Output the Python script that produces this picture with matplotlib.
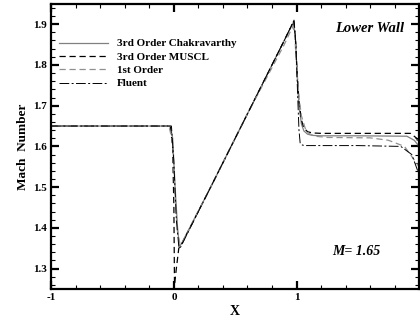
import matplotlib
matplotlib.use("Agg")
import matplotlib.pyplot as plt
from matplotlib.ticker import MultipleLocator, FixedLocator

plt.rcParams['font.family'] = ['Liberation Serif', 'DejaVu Serif']

# Series data (x, Mach number)
x_chak = [-1.0, -0.03, -0.01, 0.01, 0.03, 0.045, 0.06, 0.3, 0.6, 0.9, 0.975, 0.99, 1.005, 1.02, 1.04, 1.06, 1.09, 1.13, 1.2, 1.5, 1.9, 1.96, 2.0]
m_chak = [1.65, 1.65, 1.62, 1.50, 1.40, 1.355, 1.36, 1.50, 1.68, 1.86, 1.905, 1.87, 1.78, 1.70, 1.655, 1.638, 1.630, 1.627, 1.626, 1.626, 1.625, 1.615, 1.60]

x_muscl = [-1.0, -0.03, -0.01, 0.0, 0.005, 0.02, 0.04, 0.055, 0.3, 0.6, 0.9, 0.978, 0.99, 1.005, 1.02, 1.04, 1.06, 1.09, 1.13, 1.2, 1.5, 1.93, 1.98, 2.0]
m_muscl = [1.65, 1.65, 1.60, 1.45, 1.26, 1.30, 1.35, 1.355, 1.50, 1.68, 1.86, 1.908, 1.87, 1.78, 1.71, 1.665, 1.645, 1.636, 1.633, 1.632, 1.632, 1.632, 1.62, 1.60]

x_first = [-1.0, -0.04, -0.01, 0.01, 0.03, 0.05, 0.07, 0.3, 0.6, 0.9, 0.97, 0.985, 1.0, 1.02, 1.04, 1.07, 1.1, 1.15, 1.25, 1.6, 1.75, 1.88, 2.0]
m_first = [1.65, 1.65, 1.61, 1.48, 1.39, 1.36, 1.365, 1.50, 1.68, 1.85, 1.895, 1.875, 1.80, 1.72, 1.675, 1.645, 1.632, 1.625, 1.622, 1.621, 1.615, 1.60, 1.55]

x_fluent = [-1.0, -0.02, 0.0, 0.02, 0.04, 0.05, 0.3, 0.6, 0.9, 0.98, 0.995, 1.01, 1.02, 1.03, 1.05, 1.08, 1.2, 1.5, 1.85, 1.94, 2.0]
m_fluent = [1.65, 1.65, 1.56, 1.42, 1.355, 1.35, 1.50, 1.68, 1.86, 1.91, 1.85, 1.72, 1.64, 1.607, 1.603, 1.602, 1.602, 1.602, 1.600, 1.58, 1.53]

labels = ["3rd Order Chakravarthy", "3rd Order MUSCL", "1st Order", "Fluent"]
x_ticks = [-1, 0, 1]
y_ticks = [1.3, 1.4, 1.5, 1.6, 1.7, 1.8, 1.9]

fig = plt.figure(figsize=(4.2, 3.2), dpi=100)
ax = fig.add_axes([0.122, 0.097, 0.876, 0.891])

ax.plot(x_chak, m_chak, color='#808080', lw=0.9, ls='-', label=labels[0])
ax.plot(x_muscl, m_muscl, color='black', lw=0.9, ls=(0, (5, 3)), label=labels[1])
ax.plot(x_first, m_first, color='#909090', lw=0.9, ls=(0, (5, 3)), label=labels[2])
ax.plot(x_fluent, m_fluent, color='black', lw=0.7, ls=(0, (10, 2.5, 2, 2.5)), label=labels[3])

ax.set_xlim(-1, 2)
ax.set_ylim(1.25, 1.95)
ax.xaxis.set_major_locator(FixedLocator(x_ticks))
ax.xaxis.set_minor_locator(MultipleLocator(0.2))
ax.yaxis.set_major_locator(FixedLocator(y_ticks))
ax.yaxis.set_minor_locator(MultipleLocator(0.02))
ax.set_xticklabels([str(t) for t in x_ticks], fontweight='bold', fontsize=8)
ax.set_yticklabels([f"{t:.1f}" for t in y_ticks], fontweight='bold', fontsize=8)
ax.tick_params(which='both', direction='in', top=True, right=True, width=1.0)
ax.tick_params(which='major', length=6, width=1.6, pad=3)
ax.tick_params(which='minor', length=3, width=0.8)
for s in ax.spines.values():
    s.set_linewidth(1.6)

ax.set_xlabel("X", fontweight='bold', fontsize=10, labelpad=2)
ax.set_ylabel("Mach  Number", fontweight='bold', fontsize=9.5, labelpad=3)

leg = ax.legend(loc='upper left', bbox_to_anchor=(0.0, 0.905), frameon=False,
                fontsize=8, handlelength=4.4, handletextpad=0.8,
                labelspacing=0.32, borderaxespad=0.3)
for t in leg.get_texts():
    t.set_fontweight('bold')

ax.text(0.96, 0.915, "Lower Wall", transform=ax.transAxes, ha='right', va='center',
        fontsize=10.5, fontweight='bold', fontstyle='italic')
ax.text(0.83, 0.13, "M= 1.65", transform=ax.transAxes, ha='center', va='center',
        fontsize=10, fontweight='bold', fontstyle='italic')

fig.savefig("out.png", dpi=100)
